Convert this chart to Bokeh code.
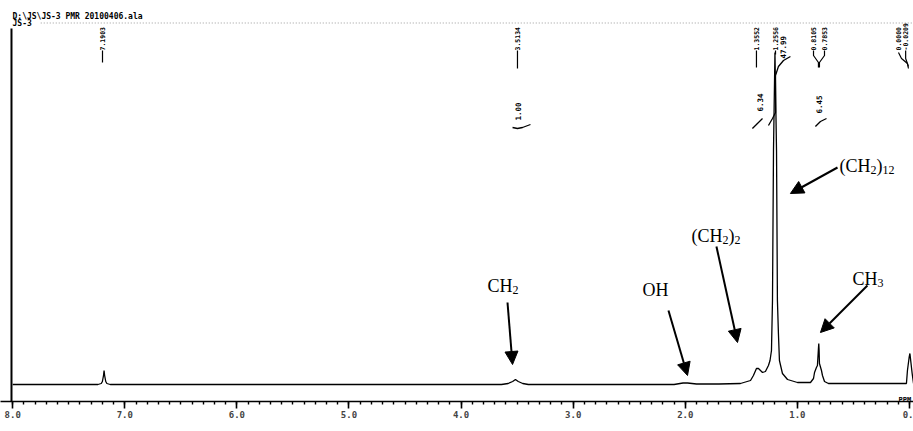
import math
from bokeh.plotting import figure
from bokeh.models import (Range1d, FixedTicker, Arrow, NormalHead, ColumnDataSource)
from bokeh.core.properties import value
from bokeh.embed import file_html
from bokeh.resources import INLINE

# ---------------- data ----------------
ppm = [8.0, 7.24, 7.21, 7.20, 7.19, 7.185, 7.18, 7.17, 7.16, 7.13,
       3.64, 3.58, 3.54, 3.515, 3.49, 3.45, 3.40,
       2.10, 2.02, 1.98, 1.90, 1.70, 1.508, 1.418, 1.392, 1.365, 1.347,
       1.311, 1.285, 1.258, 1.244, 1.231, 1.222, 1.213, 1.200, 1.186,
       1.178, 1.169, 1.160, 1.133, 1.088, 0.999, 0.883,
       0.856, 0.847, 0.830, 0.821, 0.812, 0.809, 0.806, 0.803, 0.785,
       0.776, 0.758, 0.723,
       0.080, 0.027, 0.018, 0.003, -0.004, -0.024, -0.036]
intensity = [0, 0, 1, 3, 9, 14, 9, 3, 1, 0,
             0, 1, 3, 5, 3, 1, 0,
             0, 1.5, 1.5, 0.5, 0.5, 1, 4, 9, 16, 16,
             12, 13, 19, 24, 34, 84, 234, 332, 234,
             84, 51, 24, 11, 5, 2, 2,
             6, 12, 17, 19, 36, 41, 34, 21, 14,
             9, 3, 1,
             1, 1, 14, 27, 31, 11, 1]

major_ticks = [8, 7, 6, 5, 4, 3, 2, 1, 0]
tick_labels = ["8.0", "7.0", "6.0", "5.0", "4.0", "3.0", "2.0", "1.0", "0."]
minor_ticks = [round(i * 0.1, 1) for i in range(0, 81)]

# peak-pick labels (rotated, top of chart)
peak_labels = ["7.1903", "3.5134", "1.3552", "1.2556", "0.8105", "0.7853", "0.0000", "-0.0209"]
peak_label_x = [7.199, 3.497, 1.365, 1.195, 0.856, 0.758, 0.098, 0.034]

# integral values
integral_labels = ["1.00", "6.34", "47.99", "6.45"]
integral_x = [3.488, 1.329, 1.124, 0.803]
integral_y = [264, 273, 326, 271]

# assignment annotations
assign_parts = [
    [("CH", 0), ("2", 1)],
    [("OH", 0)],
    [("(CH", 0), ("2", 1), (")", 0), ("2", 1)],
    [("(CH", 0), ("2", 1), (")", 0), ("12", 1)],
    [("CH", 0), ("3", 1)],
]
assign_x = [3.765, 2.382, 1.945, 0.625, 0.509]
assign_y = [99, 95, 149, 219, 106]

arrow_x0 = [3.586, 2.150, 1.722, 0.642, 0.375]
arrow_y0 = [82, 74, 138, 217, 99]
arrow_x1 = [3.541, 1.980, 1.534, 1.062, 0.794]
arrow_y1 = [20, 9, 42, 191, 52]

# ---------------- figure ----------------
p = figure(width=913, height=431,
           x_range=Range1d(8.109, -0.036), y_range=Range1d(-17, 384),
           output_backend="svg", toolbar_location=None,
           y_axis_location=None,
           min_border_left=0, min_border_right=0, min_border_top=0,
           min_border_bottom=30)
p.outline_line_color = None
p.grid.visible = False
p.background_fill_color = "white"
p.border_fill_color = "white"

ax = p.xaxis[0]
ax.ticker = FixedTicker(ticks=major_ticks, minor_ticks=minor_ticks)
ax.major_label_overrides = {t: l for t, l in zip(major_ticks, tick_labels)}
ax.axis_line_color = "black"
ax.axis_line_width = 1.6
ax.major_tick_line_color = "black"
ax.major_tick_line_width = 1.6
ax.major_tick_in = 0
ax.major_tick_out = 7
ax.minor_tick_line_color = "black"
ax.minor_tick_line_width = 1.4
ax.minor_tick_in = 0
ax.minor_tick_out = 3
ax.major_label_text_font = "DejaVu Sans Mono"
ax.major_label_text_font_style = "bold"
ax.major_label_text_font_size = "9px"
ax.major_label_standoff = 2

# left frame line and faint top dotted line
p.segment(x0=[8.011], y0=[356], x1=[8.011], y1=[-17], line_color="black", line_width=2)
p.segment(x0=[7.75], y0=[361.5], x1=[-0.036], y1=[361.5], line_color="#9a9a9a",
          line_width=1, line_dash="1 2")

# header text
p.text(x=[8.002, 8.002], y=[368.5, 361.5], text=["D:\\JS\\JS-3 PMR 20100406.ala", "JS-3"],
       text_font=value("DejaVu Sans Mono"), text_font_style="bold",
       text_font_size="8px", text_align="left", text_baseline="alphabetic",
       text_color="black")

# spectrum
p.line(ppm, intensity, line_color="black", line_width=1.3)

# peak-pick labels
p.text(x=peak_label_x, y=[334] * len(peak_labels), text=peak_labels, angle=math.pi / 2,
       text_font=value("DejaVu Sans Mono"), text_font_style="bold",
       text_font_size="6.5px", text_align="left", text_baseline="middle",
       text_color="black")
tick_xs = [[7.199, 7.199], [3.497, 3.497], [1.365, 1.365], [1.195, 1.195],
           [0.856, 0.856, 0.812, 0.812], [0.758, 0.758, 0.803, 0.803],
           [0.098, 0.071, 0.018, 0.009], [0.034, 0.034, 0.009]]
tick_ys = [[334, 322], [334, 316], [334, 317], [334, 330],
           [334, 329, 322, 317], [334, 329, 322, 317],
           [332, 326, 321, 316], [334, 326, 318]]
p.multi_line(xs=tick_xs, ys=tick_ys, line_color="black", line_width=1.2)

# integral curves
int_xs = [[3.541, 3.497, 3.452, 3.381],
          [1.401, 1.365, 1.311],
          [1.258, 1.222, 1.195, 1.195, 1.169, 1.124, 1.062],
          [0.839, 0.794, 0.740]]
int_ys = [[257, 256, 257, 260],
          [256, 260, 266],
          [259, 266, 272, 309, 318, 324, 328],
          [258, 263, 266]]
p.multi_line(xs=int_xs, ys=int_ys, line_color="black", line_width=1.3)
p.text(x=integral_x, y=integral_y, text=integral_labels, angle=math.pi / 2,
       text_font=value("DejaVu Sans Mono"), text_font_style="bold",
       text_font_size="7.5px", text_align="left", text_baseline="middle",
       text_color="black")

# assignment annotations with subscripts
adv = {"(": 0.333, ")": 0.333, "C": 0.667, "H": 0.722, "O": 0.722}
main_size, sub_size = 18, 12
tx, ty, tt, tox, toy, tsz = [], [], [], [], [], []
for parts, x0, y0 in zip(assign_parts, assign_x, assign_y):
    off = 0.0
    for s, sub in parts:
        size = sub_size if sub else main_size
        tx.append(x0); ty.append(y0); tt.append(s)
        tox.append(off); toy.append(4 if sub else 0)
        tsz.append(f"{size}px")
        off += sum(adv.get(c, 0.5) for c in s) * size
src = ColumnDataSource(dict(x=tx, y=ty, text=tt, xo=tox, yo=toy, size=tsz))
p.text(x="x", y="y", text="text", x_offset="xo", y_offset="yo", text_font_size="size",
       source=src, text_font=value("Liberation Serif"), text_align="left",
       text_baseline="alphabetic", text_color="black")

for xa, ya, xb, yb in zip(arrow_x0, arrow_y0, arrow_x1, arrow_y1):
    p.add_layout(Arrow(x_start=xa, y_start=ya, x_end=xb, y_end=yb,
                       line_color="black", line_width=2,
                       end=NormalHead(size=13, fill_color="black", line_color="black")))

# PPM unit label
p.text(x=[0.098], y=[-15], text=["PPM"], text_font=value("DejaVu Sans Mono"),
       text_font_style="bold", text_font_size="7px", text_align="left",
       text_baseline="alphabetic", text_color="black")

open("out.html", "w").write(file_html(p, INLINE))
